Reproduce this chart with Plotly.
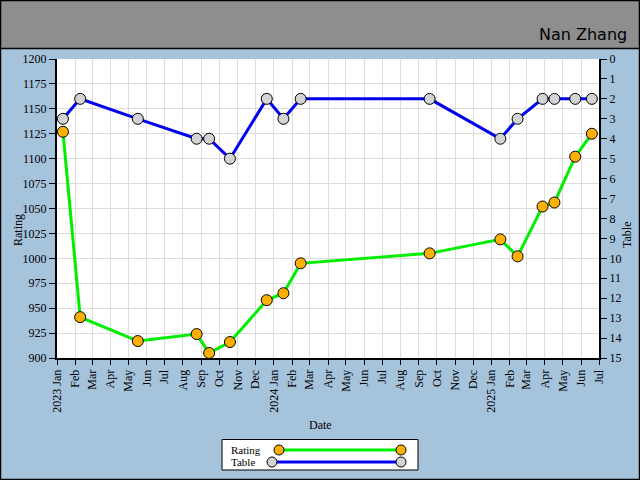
import plotly.graph_objects as go

# ---- data ----
dates = ["2023-01-11", "2023-02-09", "2023-05-17", "2023-08-24", "2023-09-14",
         "2023-10-19", "2023-12-20", "2024-01-17", "2024-02-15", "2024-09-19",
         "2025-01-16", "2025-02-14", "2025-03-28", "2025-04-17", "2025-05-22",
         "2025-06-19"]
rating = [1127, 941, 917, 924, 905, 916, 958, 965, 995, 1005,
          1019, 1002, 1052, 1056, 1102, 1125]
table = [3, 2, 3, 4, 4, 5, 2, 3, 2, 2, 4, 3, 2, 2, 2, 2]

tick_vals = ["2023-01-01", "2023-02-01", "2023-03-01", "2023-04-01", "2023-05-01",
             "2023-06-01", "2023-07-01", "2023-08-01", "2023-09-01", "2023-10-01",
             "2023-11-01", "2023-12-01", "2024-01-01", "2024-02-01", "2024-03-01",
             "2024-04-01", "2024-05-01", "2024-06-01", "2024-07-01", "2024-08-01",
             "2024-09-01", "2024-10-01", "2024-11-01", "2024-12-01", "2025-01-01",
             "2025-02-01", "2025-03-01", "2025-04-01", "2025-05-01", "2025-06-01",
             "2025-07-01"]
tick_text = ["2023 Jan", "Feb", "Mar", "Apr", "May", "Jun", "Jul", "Aug", "Sep", "Oct",
             "Nov", "Dec", "2024 Jan", "Feb", "Mar", "Apr", "May", "Jun", "Jul", "Aug",
             "Sep", "Oct", "Nov", "Dec", "2025 Jan", "Feb", "Mar", "Apr", "May", "Jun",
             "Jul"]

title_text = "Nan Zhang"

# ---- style ----
BG = "#a6c3dc"
HEADER = "#8e8e8e"
GREEN = "#00ee00"
BLUE = "#0000ee"
ORANGE = "#ffb000"
GREY = "#d3d3d3"
FONT = "Liberation Serif"

W, H = 640, 480
ML, MR, MT, MB = 57, 41, 59, 122
PW, PH = W - ML - MR, H - MT - MB


def px(x):
    return (x - ML) / PW


def py(y):
    return (H - MB - y) / PH


fig = go.Figure()
fig.add_trace(go.Scatter(
    x=dates, y=table, yaxis="y2", mode="lines+markers", name="Table",
    line=dict(color=BLUE, width=3),
    marker=dict(size=11, color=GREY, line=dict(color="black", width=1)),
    showlegend=False))
fig.add_trace(go.Scatter(
    x=dates, y=rating, mode="lines+markers", name="Rating",
    line=dict(color=GREEN, width=3),
    marker=dict(size=11, color=ORANGE, line=dict(color="black", width=1)),
    showlegend=False))

shapes = []
# header band
shapes.append(dict(type="rect", xref="paper", yref="paper",
                   x0=px(0), x1=px(W), y0=py(48.5), y1=py(0),
                   fillcolor=HEADER, line=dict(color="black", width=1.5), layer="below"))
# outer border
shapes.append(dict(type="rect", xref="paper", yref="paper",
                   x0=px(0.5), x1=px(W - 0.5), y0=py(H - 0.5), y1=py(0.5),
                   line=dict(color="black", width=1.5), fillcolor="rgba(0,0,0,0)"))
# legend box
shapes.append(dict(type="rect", xref="paper", yref="paper",
                   x0=px(222), x1=px(418), y0=py(470), y1=py(439.5),
                   fillcolor="white", line=dict(color="black", width=1)))
# legend lines
shapes.append(dict(type="line", xref="paper", yref="paper",
                   x0=px(279), x1=px(401), y0=py(450), y1=py(450),
                   line=dict(color=GREEN, width=3)))
shapes.append(dict(type="line", xref="paper", yref="paper",
                   x0=px(272), x1=px(401), y0=py(462), y1=py(462),
                   line=dict(color=BLUE, width=3)))
for cx, cy, col in [(279, 450, ORANGE), (401, 450, ORANGE), (272, 462, GREY), (401, 462, GREY)]:
    shapes.append(dict(type="circle", xref="paper", yref="paper",
                       xsizemode="pixel", ysizemode="pixel",
                       xanchor=px(cx), yanchor=py(cy),
                       x0=-5, x1=5, y0=-5, y1=5,
                       fillcolor=col, line=dict(color="black", width=1)))

annotations = [
    dict(text=title_text, xref="paper", yref="paper", x=px(629), y=py(34),
         xanchor="right", yanchor="middle", showarrow=False,
         font=dict(family="DejaVu Sans", size=16, color="black")),
    dict(text="Rating", xref="paper", yref="paper", x=px(229), y=py(450),
         xanchor="left", yanchor="middle", showarrow=False,
         font=dict(family=FONT, size=11, color="black")),
    dict(text="Table", xref="paper", yref="paper", x=px(229), y=py(462.5),
         xanchor="left", yanchor="middle", showarrow=False,
         font=dict(family=FONT, size=11, color="black")),
    # axis titles
    dict(text="Rating", xref="paper", yref="paper", x=px(18), y=py(230),
         xanchor="center", yanchor="middle", textangle=-90, showarrow=False,
         font=dict(family=FONT, size=12, color="black")),
    dict(text="Table", xref="paper", yref="paper", x=px(627), y=py(235),
         xanchor="center", yanchor="middle", textangle=-90, showarrow=False,
         font=dict(family=FONT, size=12, color="black")),
    dict(text="Date", xref="paper", yref="paper", x=px(320), y=py(425),
         xanchor="center", yanchor="middle", showarrow=False,
         font=dict(family=FONT, size=12, color="black")),
]

fig.update_layout(
    width=W, height=H,
    margin=dict(l=ML, r=MR, t=MT, b=MB, pad=0, autoexpand=False),
    paper_bgcolor=BG, plot_bgcolor="white",
    font=dict(family=FONT, size=12, color="black"),
    showlegend=False,
    shapes=shapes, annotations=annotations,
    xaxis=dict(
        type="date", range=["2023-01-01", "2025-07-01"], automargin=False,
        tickmode="array", tickvals=tick_vals, ticktext=tick_text,
        tickangle=-90, ticks="outside", ticklen=5, tickcolor="black",
        showline=True, linecolor="black", linewidth=2,
        showgrid=True, gridcolor="#dddddd", gridwidth=1, zeroline=False,
    ),
    yaxis=dict(
        range=[900, 1200], dtick=25, tick0=900, automargin=False,
        ticks="outside", ticklen=6, tickcolor="black",
        showline=True, linecolor="black", linewidth=2,
        showgrid=True, gridcolor="#dddddd", gridwidth=1, zeroline=False,
    ),
    yaxis2=dict(
        overlaying="y", side="right", range=[15, 0], dtick=1, tick0=0,
        automargin=False,
        ticks="outside", ticklen=6, tickcolor="black",
        showline=True, linecolor="black", linewidth=2,
        showgrid=False, zeroline=False,
    ),
)

fig.write_html(
    "out.html",
    config={"displayModeBar": False},
    post_script="document.body.style.margin='0';document.body.style.overflow='hidden';",
)
